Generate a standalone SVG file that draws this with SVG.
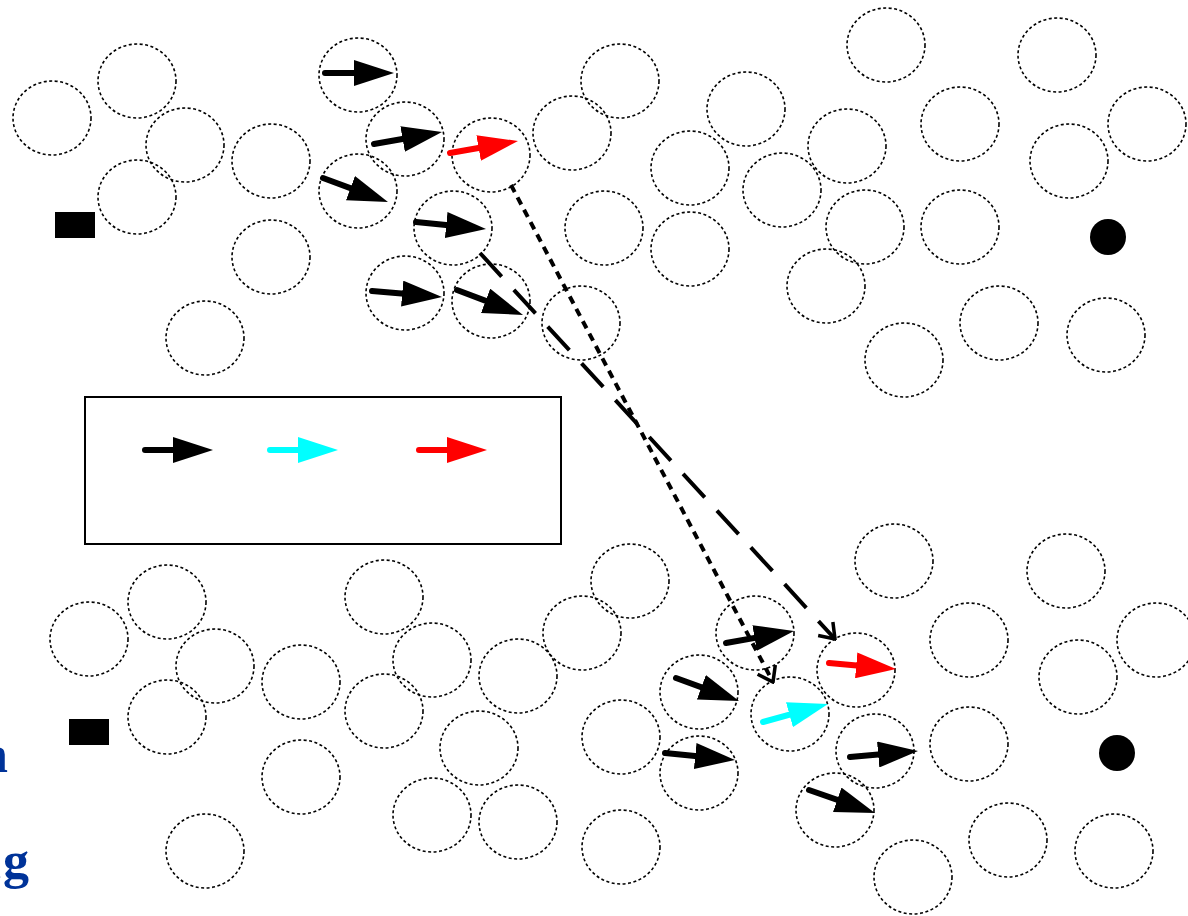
<svg xmlns="http://www.w3.org/2000/svg" width="1188" height="916" viewBox="0 0 1188 916">
<style>
.c{fill:none;stroke:#000;stroke-width:1.6;stroke-dasharray:3 2.5}
.a{stroke:#000;stroke-width:6;stroke-linecap:round;fill:none;marker-end:url(#hk)}
.ar{stroke:#f00;stroke-width:6;stroke-linecap:round;fill:none;marker-end:url(#hr)}
.ac{stroke:#0ff;stroke-width:6;stroke-linecap:round;fill:none;marker-end:url(#hc)}
.t{font-family:"Liberation Serif",serif;font-weight:bold;font-size:52px;fill:#003399}
</style>
<defs>
<marker id="hk" markerUnits="userSpaceOnUse" viewBox="0 0 40 26" markerWidth="40" markerHeight="26" refX="20" refY="13" orient="auto"><path d="M0 0 L40 13 L0 26 Z" fill="#000"/></marker>
<marker id="hr" markerUnits="userSpaceOnUse" viewBox="0 0 40 26" markerWidth="40" markerHeight="26" refX="20" refY="13" orient="auto"><path d="M0 0 L40 13 L0 26 Z" fill="#f00"/></marker>
<marker id="hc" markerUnits="userSpaceOnUse" viewBox="0 0 40 26" markerWidth="40" markerHeight="26" refX="20" refY="13" orient="auto"><path d="M0 0 L40 13 L0 26 Z" fill="#0ff"/></marker>
<marker id="open" markerUnits="userSpaceOnUse" viewBox="-16 -12 18 24" markerWidth="18" markerHeight="24" refX="0" refY="0" orient="auto"><path d="M-14 -10 L0 0 L-14 10" fill="none" stroke="#000" stroke-width="3.5"/></marker>
</defs>
<rect width="1188" height="916" fill="#fff"/>

<g id="connectors">
<path d="M511 185 L773 682" fill="none" stroke="#000" stroke-width="4" stroke-dasharray="8 6" marker-end="url(#open)"/>
<path d="M480 253 L835 639" fill="none" stroke="#000" stroke-width="4" stroke-dasharray="32 18" marker-end="url(#open)"/>
</g>

<g id="top-cluster">
<g id="t1"><ellipse class="c" cx="52" cy="118" rx="39" ry="37"/></g>
<g id="t2"><ellipse class="c" cx="137" cy="81" rx="39" ry="37"/></g>
<g id="t3"><ellipse class="c" cx="185" cy="145" rx="39" ry="37"/></g>
<g id="t4"><ellipse class="c" cx="137" cy="197" rx="39" ry="37"/></g>
<g id="t5"><ellipse class="c" cx="271" cy="161" rx="39" ry="37"/></g>
<g id="t6"><ellipse class="c" cx="271" cy="257" rx="39" ry="37"/></g>
<g id="t7"><ellipse class="c" cx="205" cy="338" rx="39" ry="37"/></g>
<g id="t8"><ellipse class="c" cx="358" cy="75" rx="39" ry="37"/><path class="a" d="M325 73 L374 73"/></g>
<g id="t9"><ellipse class="c" cx="405" cy="139" rx="39" ry="37"/><path class="a" d="M374 144 L422.3 135.5"/></g>
<g id="t10"><ellipse class="c" cx="358" cy="191" rx="39" ry="37"/><path class="a" d="M323 178 L369.2 195.1"/></g>
<g id="t11"><ellipse class="c" cx="453" cy="228" rx="39" ry="37"/><path class="a" d="M416 222 L466.1 227"/></g>
<g id="t12"><ellipse class="c" cx="405" cy="293" rx="39" ry="37"/><path class="a" d="M372 291 L422.1 295.3"/></g>
<g id="t13"><ellipse class="c" cx="491" cy="301" rx="39" ry="37"/><path class="a" d="M457 290 L504.3 307.9"/></g>
<g id="t14"><ellipse class="c" cx="491" cy="155" rx="39" ry="37"/><path class="ar" d="M450 153 L498.3 144.5"/></g>
<g id="t15"><ellipse class="c" cx="572" cy="133" rx="39" ry="37"/></g>
<g id="t16"><ellipse class="c" cx="620" cy="81" rx="39" ry="37"/></g>
<g id="t17"><ellipse class="c" cx="604" cy="228" rx="39" ry="37"/></g>
<g id="t18"><ellipse class="c" cx="581" cy="323" rx="39" ry="37"/></g>
<g id="t19"><ellipse class="c" cx="690" cy="168" rx="39" ry="37"/></g>
<g id="t20"><ellipse class="c" cx="690" cy="249" rx="39" ry="37"/></g>
<g id="t21"><ellipse class="c" cx="746" cy="109" rx="39" ry="37"/></g>
<g id="t22"><ellipse class="c" cx="782" cy="190" rx="39" ry="37"/></g>
<g id="t23"><ellipse class="c" cx="847" cy="146" rx="39" ry="37"/></g>
<g id="t24"><ellipse class="c" cx="865" cy="227" rx="39" ry="37"/></g>
<g id="t25"><ellipse class="c" cx="826" cy="286" rx="39" ry="37"/></g>
<g id="t26"><ellipse class="c" cx="886" cy="45" rx="39" ry="37"/></g>
<g id="t27"><ellipse class="c" cx="960" cy="124" rx="39" ry="37"/></g>
<g id="t28"><ellipse class="c" cx="960" cy="227" rx="39" ry="37"/></g>
<g id="t29"><ellipse class="c" cx="904" cy="360" rx="39" ry="37"/></g>
<g id="t30"><ellipse class="c" cx="999" cy="323" rx="39" ry="37"/></g>
<g id="t31"><ellipse class="c" cx="1057" cy="55" rx="39" ry="37"/></g>
<g id="t32"><ellipse class="c" cx="1069" cy="161" rx="39" ry="37"/></g>
<g id="t33"><ellipse class="c" cx="1147" cy="124" rx="39" ry="37"/></g>
<g id="t34"><ellipse class="c" cx="1106" cy="335" rx="39" ry="37"/></g>
<g id="top-source"><rect x="55" y="212" width="40" height="26" fill="#000"/></g>
<g id="top-sink"><circle cx="1108" cy="237" r="18" fill="#000"/></g>
</g>

<g id="legend">
<rect x="85" y="397" width="476" height="147" fill="none" stroke="#000" stroke-width="2"/>
<path class="a" d="M145 450 L193 450"/>
<path class="ac" d="M270 450 L318 450"/>
<path class="ar" d="M419 450 L467 450"/>
</g>

<g id="bottom-cluster">
<g id="b1"><ellipse class="c" cx="89" cy="639" rx="39" ry="37"/></g>
<g id="b2"><ellipse class="c" cx="167" cy="602" rx="39" ry="37"/></g>
<g id="b3"><ellipse class="c" cx="215" cy="666" rx="39" ry="37"/></g>
<g id="b4"><ellipse class="c" cx="167" cy="717" rx="39" ry="37"/></g>
<g id="b5"><ellipse class="c" cx="301" cy="682" rx="39" ry="37"/></g>
<g id="b6"><ellipse class="c" cx="301" cy="777" rx="39" ry="37"/></g>
<g id="b7"><ellipse class="c" cx="205" cy="851" rx="39" ry="37"/></g>
<g id="b8"><ellipse class="c" cx="384" cy="597" rx="39" ry="37"/></g>
<g id="b9"><ellipse class="c" cx="432" cy="660" rx="39" ry="37"/></g>
<g id="b10"><ellipse class="c" cx="384" cy="711" rx="39" ry="37"/></g>
<g id="b11"><ellipse class="c" cx="479" cy="748" rx="39" ry="37"/></g>
<g id="b12"><ellipse class="c" cx="432" cy="815" rx="39" ry="37"/></g>
<g id="b13"><ellipse class="c" cx="518" cy="676" rx="39" ry="37"/></g>
<g id="b14"><ellipse class="c" cx="518" cy="822" rx="39" ry="37"/></g>
<g id="b15"><ellipse class="c" cx="582" cy="633" rx="39" ry="37"/></g>
<g id="b16"><ellipse class="c" cx="630" cy="581" rx="39" ry="37"/></g>
<g id="b17"><ellipse class="c" cx="621" cy="737" rx="39" ry="37"/></g>
<g id="b18"><ellipse class="c" cx="621" cy="847" rx="39" ry="37"/></g>
<g id="b19"><ellipse class="c" cx="699" cy="692" rx="39" ry="37"/><path class="a" d="M676 678 L720.2 694.1"/></g>
<g id="b20"><ellipse class="c" cx="699" cy="773" rx="39" ry="37"/><path class="a" d="M665 753 L715.1 758"/></g>
<g id="b21"><ellipse class="c" cx="755" cy="633" rx="39" ry="37"/><path class="a" d="M726 643 L774.3 634.5"/></g>
<g id="b22"><ellipse class="c" cx="790" cy="714" rx="39" ry="37"/><path class="ac" d="M763 722 L808.7 709.3"/></g>
<g id="b23"><ellipse class="c" cx="856" cy="670" rx="39" ry="37"/><path class="ar" d="M829 663 L876.1 667.2"/></g>
<g id="b24"><ellipse class="c" cx="875" cy="751" rx="39" ry="37"/><path class="a" d="M850 757 L898.1 752.8"/></g>
<g id="b25"><ellipse class="c" cx="835" cy="810" rx="39" ry="37"/><path class="a" d="M809 790 L856.1 806.4"/></g>
<g id="b26"><ellipse class="c" cx="894" cy="561" rx="39" ry="37"/></g>
<g id="b27"><ellipse class="c" cx="969" cy="640" rx="39" ry="37"/></g>
<g id="b28"><ellipse class="c" cx="969" cy="744" rx="39" ry="37"/></g>
<g id="b29"><ellipse class="c" cx="913" cy="877" rx="39" ry="37"/></g>
<g id="b30"><ellipse class="c" cx="1008" cy="840" rx="39" ry="37"/></g>
<g id="b31"><ellipse class="c" cx="1066" cy="571" rx="39" ry="37"/></g>
<g id="b32"><ellipse class="c" cx="1078" cy="677" rx="39" ry="37"/></g>
<g id="b33"><ellipse class="c" cx="1156" cy="640" rx="39" ry="37"/></g>
<g id="b34"><ellipse class="c" cx="1114" cy="851" rx="39" ry="37"/></g>
<g id="bottom-source"><rect x="69" y="719" width="40" height="26" fill="#000"/></g>
<g id="bottom-sink"><circle cx="1117" cy="753" r="18" fill="#000"/></g>
</g>

<g id="side-labels">
<text class="t" x="-21" y="772">n</text>
<text class="t" x="-28" y="878">n<tspan dx="2">g</tspan></text>
</g>
</svg>
